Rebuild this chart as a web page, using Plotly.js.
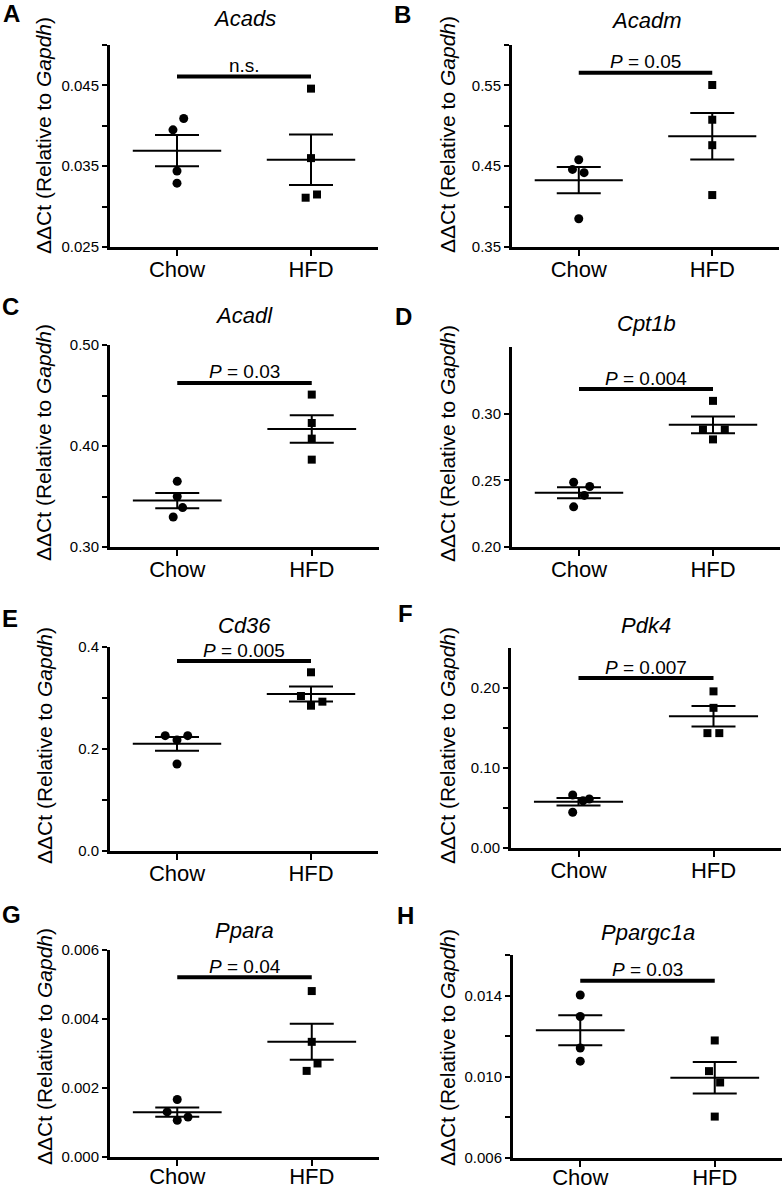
<!DOCTYPE html>
<html>
<head>
<meta charset="utf-8">
<script src="https://cdn.plot.ly/plotly-3.0.1.min.js"></script>
<style>html,body{margin:0;padding:0;background:#fff;}#chart{width:784px;height:1191px;}</style>
</head>
<body>
<div id="chart"></div>
<script>
// ---------- DATA ----------
const categories = ['Chow', 'HFD'];
const panelLetters = ['A', 'B', 'C', 'D', 'E', 'F', 'G', 'H'];
const genes = ['Acads', 'Acadm', 'Acadl', 'Cpt1b', 'Cd36', 'Pdk4', 'Ppara', 'Ppargc1a'];

const acadsChow = [0.0409, 0.0395, 0.0344, 0.0329];
const acadsHFD  = [0.0446, 0.0360, 0.0311, 0.0315];
const acadmChow = [0.458, 0.446, 0.442, 0.385];
const acadmHFD  = [0.5505, 0.5075, 0.476, 0.4143];
const acadlChow = [0.365, 0.350, 0.339, 0.3297];
const acadlHFD  = [0.4509, 0.4228, 0.4073, 0.3865];
const cpt1bChow = [0.2486, 0.2454, 0.2387, 0.2301];
const cpt1bHFD  = [0.3096, 0.2881, 0.2881, 0.2807];
const cd36Chow  = [0.2261, 0.2176, 0.2261, 0.1706];
const cd36HFD   = [0.3504, 0.3039, 0.2928, 0.2849];
const pdk4Chow  = [0.0662, 0.0591, 0.0612, 0.0447];
const pdk4HFD   = [0.1958, 0.1752, 0.1436, 0.1436];
const pparaChow = [0.001666, 0.001306, 0.001161, 0.001065];
const pparaHFD  = [0.00481, 0.003338, 0.002711, 0.002496];
const ppargc1aChow = [0.01403, 0.01297, 0.01142, 0.01077];
const ppargc1aHFD  = [0.01179, 0.01028, 0.00972, 0.00804];

// horizontal scatter (jitter) of the points, in category units
const acadsChowJit = [0.05, -0.03, 0, 0];
const acadsHFDJit  = [0, 0, -0.04, 0.045];
const acadmChowJit = [0, -0.047, 0.04, 0];
const acadmHFDJit  = [0, 0, 0, 0];
const acadlChowJit = [0, 0, 0.04, -0.03];
const acadlHFDJit  = [0, 0, 0, 0];
const cpt1bChowJit = [-0.04, 0.08, 0.04, -0.04];
const cpt1bHFDJit  = [0, -0.075, 0.088, 0];
const cd36ChowJit  = [-0.088, 0, 0.08, 0];
const cd36HFDJit   = [0, -0.075, 0.085, 0];
const pdk4ChowJit  = [-0.043, 0.033, 0.08, -0.043];
const pdk4HFDJit   = [0, 0, -0.045, 0.043];
const pparaChowJit = [0, -0.075, 0.08, 0];
const pparaHFDJit  = [0, 0, 0.043, -0.038];
const ppargc1aChowJit = [0, 0, 0, 0];
const ppargc1aHFDJit  = [0, -0.043, 0.04, 0];

// significance bar heights and labels
const sigLevels = [0.0461, 0.5656, 0.4624, 0.3185, 0.3725, 0.2124, 0.005207, 0.01473];
const sigLabels = ['n.s.', '<i>P</i> = 0.05', '<i>P</i> = 0.03', '<i>P</i> = 0.004',
                   '<i>P</i> = 0.005', '<i>P</i> = 0.007', '<i>P</i> = 0.04', '<i>P</i> = 0.03'];

// y ranges and ticks
const yRanges = [[0.025, 0.05], [0.35, 0.60], [0.30, 0.50], [0.20, 0.35],
                 [0.0, 0.4], [0.0, 0.25], [0.0, 0.006], [0.006, 0.016]];
const yTickVals = [
  [0.025, 0.03, 0.035, 0.04, 0.045, 0.05],
  [0.35, 0.40, 0.45, 0.50, 0.55, 0.60],
  [0.30, 0.35, 0.40, 0.45, 0.50],
  [0.20, 0.25, 0.30],
  [0.0, 0.1, 0.2, 0.3, 0.4],
  [0.0, 0.05, 0.10, 0.15, 0.20],
  [0.0, 0.002, 0.004, 0.006],
  [0.006, 0.008, 0.010, 0.012, 0.014, 0.016]
];
const yTickText = [
  ['0.025', '', '0.035', '', '0.045', ''],
  ['0.35', '', '0.45', '', '0.55', ''],
  ['0.30', '', '0.40', '', '0.50'],
  ['0.20', '0.25', '0.30'],
  ['0.0', '', '0.2', '', '0.4'],
  ['0.00', '', '0.10', '', '0.20'],
  ['0.000', '0.002', '0.004', '0.006'],
  ['0.006', '', '0.010', '', '0.014', '']
];

const chowSets = [acadsChow, acadmChow, acadlChow, cpt1bChow, cd36Chow, pdk4Chow, pparaChow, ppargc1aChow];
const hfdSets  = [acadsHFD, acadmHFD, acadlHFD, cpt1bHFD, cd36HFD, pdk4HFD, pparaHFD, ppargc1aHFD];
const chowJits = [acadsChowJit, acadmChowJit, acadlChowJit, cpt1bChowJit, cd36ChowJit, pdk4ChowJit, pparaChowJit, ppargc1aChowJit];
const hfdJits  = [acadsHFDJit, acadmHFDJit, acadlHFDJit, cpt1bHFDJit, cd36HFDJit, pdk4HFDJit, pparaHFDJit, ppargc1aHFDJit];

// ---------- LAYOUT (pixel boxes) ----------
const W = 784, H = 1191;
const boxes = [ // [left, top, right, bottom]
  [110, 45, 378, 247], [512, 45, 779, 247],
  [110, 345, 379, 547], [512, 347, 780, 547],
  [110, 647, 378, 851], [511, 648, 781, 848],
  [110, 950, 379, 1157], [513, 955, 782, 1158]
];
const letterPos = [[11, 14], [402, 15], [10, 306], [403, 316], [10, 618], [405, 613], [11, 914], [405, 915]];
const titleY = [19, 20, 315, 323, 625, 625, 930, 932];
const yTitleY = [136, 135, 443, 444, 746, 746, 1047, 1048];
const xLabelStandoff = [-5, -5, -5, -5, -5, -5, -8, -8];

const FONT = 'Liberation Sans, Arial, Helvetica, sans-serif';
const px = v => v / W;
const py = v => 1 - v / H;

function mean(a) { return a.reduce((s, v) => s + v, 0) / a.length; }
function sem(a) {
  const m = mean(a);
  const sd = Math.sqrt(a.reduce((s, v) => s + (v - m) * (v - m), 0) / (a.length - 1));
  return sd / Math.sqrt(a.length);
}

const traces = [];
const layout = {
  width: W, height: H, autosize: false,
  margin: {l: 0, r: 0, t: 0, b: 0},
  paper_bgcolor: '#fff', plot_bgcolor: 'rgba(0,0,0,0)',
  showlegend: false,
  font: {family: FONT, color: '#000'},
  annotations: []
};

for (let i = 0; i < 8; i++) {
  const n = i + 1;
  const xa = 'x' + n, ya = 'y' + n;
  const b = boxes[i];
  const groups = [chowSets[i], hfdSets[i]];
  const jits = [chowJits[i], hfdJits[i]];

  // mean lines + SEM
  groups.forEach((g, gi) => {
    const m = mean(g), s = sem(g);
    traces.push({
      x: [gi - 0.33, gi + 0.33], y: [m, m], xaxis: xa, yaxis: ya,
      mode: 'lines', line: {color: '#000', width: 2}, hoverinfo: 'skip', cliponaxis: false
    });
    traces.push({
      x: [gi], y: [m], xaxis: xa, yaxis: ya, mode: 'markers',
      marker: {size: 1, color: 'rgba(0,0,0,0)'},
      error_y: {type: 'data', array: [s], visible: true, width: 22, thickness: 2, color: '#000'},
      hoverinfo: 'skip', cliponaxis: false
    });
  });
  // points
  groups.forEach((g, gi) => {
    traces.push({
      x: jits[gi].map(j => gi + j), y: g, xaxis: xa, yaxis: ya, mode: 'markers',
      marker: {symbol: gi === 0 ? 'circle' : 'square', size: gi === 0 ? 9 : 8, color: '#000'},
      cliponaxis: false
    });
  });
  // significance bar
  traces.push({
    x: [0, 1], y: [sigLevels[i], sigLevels[i]], xaxis: xa, yaxis: ya,
    mode: 'lines', line: {color: '#000', width: 4}, hoverinfo: 'skip', cliponaxis: false
  });

  layout['xaxis' + (n === 1 ? '' : n)] = {
    domain: [px(b[0]), px(b[2])], anchor: ya, range: [-0.5, 1.5],
    tickvals: [0, 1], ticktext: categories,
    showline: true, linewidth: 3, linecolor: '#000', mirror: false,
    ticks: 'outside', ticklen: 6, tickwidth: 2, tickcolor: '#000',
    ticklabelstandoff: xLabelStandoff[i],
    tickfont: {size: 22, family: FONT, color: '#000'},
    showgrid: false, zeroline: false, fixedrange: true
  };
  layout['yaxis' + (n === 1 ? '' : n)] = {
    domain: [py(b[3]), py(b[1])], anchor: xa, range: yRanges[i],
    tickmode: 'array', tickvals: yTickVals[i], ticktext: yTickText[i],
    showline: true, linewidth: 3, linecolor: '#000',
    ticks: 'outside', ticklen: 5, tickwidth: 2, tickcolor: '#000',
    tickfont: {size: 15, family: FONT, color: '#000'},
    showgrid: false, zeroline: false, fixedrange: true
  };

  const col = i % 2;
  // panel letter
  layout.annotations.push({
    xref: 'paper', yref: 'paper', x: px(letterPos[i][0]), y: py(letterPos[i][1]),
    xanchor: 'center', yanchor: 'middle', showarrow: false,
    text: '<b>' + panelLetters[i] + '</b>', font: {size: 24, family: FONT, color: '#000'}
  });
  // gene title
  layout.annotations.push({
    xref: 'paper', yref: 'paper', x: px((b[0] + b[2]) / 2), y: py(titleY[i]),
    xanchor: 'center', yanchor: 'middle', showarrow: false,
    text: '<i>' + genes[i] + '</i>', font: {size: 22, family: FONT, color: '#000'}
  });
  // y-axis title
  layout.annotations.push({
    xref: 'paper', yref: 'paper', x: px(col === 0 ? 44 : 447), y: py(yTitleY[i]),
    xanchor: 'center', yanchor: 'middle', showarrow: false, textangle: -90,
    text: '\u0394\u0394Ct (Relative to <i>Gapdh</i>)', font: {size: 21, family: FONT, color: '#000'}
  });
  // significance label
  layout.annotations.push({
    xref: xa, yref: ya, x: 0.5, y: sigLevels[i], yshift: 11,
    xanchor: 'center', yanchor: 'middle', showarrow: false,
    text: sigLabels[i], font: {size: 19, family: FONT, color: '#000'}
  });
}

Plotly.newPlot('chart', traces, layout, {staticPlot: true, displayModeBar: false});
</script>
</body>
</html>
